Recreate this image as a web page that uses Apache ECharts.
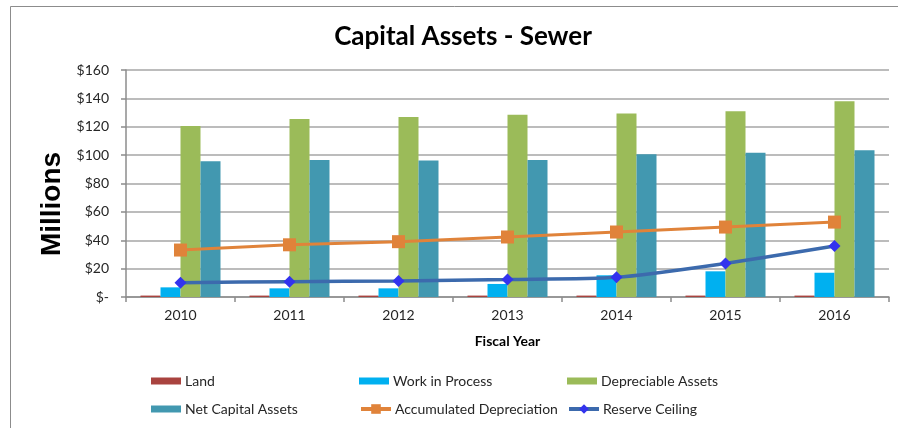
<!DOCTYPE html>
<html>
<head>
<meta charset="utf-8">
<title>Capital Assets - Sewer</title>
<script src="https://cdn.jsdelivr.net/npm/echarts@6/dist/echarts.min.js"></script>
<style>
  html, body { margin: 0; padding: 0; background: #ffffff; }
  #chart { width: 898px; height: 428px; }
</style>
</head>
<body>
<div id="chart"></div>
<script>
// Fiscal years on the category axis
const years = ['2010', '2011', '2012', '2013', '2014', '2015', '2016'];

// Values in millions of dollars
const land = [1.0, 1.0, 1.0, 1.0, 1.0, 1.0, 1.0];
const workInProcess = [6.8, 6.1, 6.1, 9.2, 15.3, 18.1, 17.1];
const depreciableAssets = [120.6, 125.4, 126.8, 128.4, 129.4, 131.0, 138.0];
const netCapitalAssets = [95.6, 96.5, 96.2, 96.5, 100.7, 101.6, 103.5];
const accumulatedDepreciation = [33.1, 36.8, 39.0, 42.3, 45.8, 49.3, 52.8];
const reserveCeiling = [10.1, 10.8, 11.3, 12.4, 13.9, 23.7, 35.9];

// Value-axis range and tick step
const yMin = 0;
const yMax = 160;
const yStep = 20;

const textFont = 'Lato, "Open Sans", sans-serif';
const textColor = '#262626';

const chart = echarts.init(document.getElementById('chart'), null, { renderer: 'canvas' });

const barSeries = (name, data, color) => ({
  name: name,
  type: 'bar',
  data: data,
  barWidth: 20,
  barGap: '0%',
  itemStyle: { color: color },
  z: 2
});

// One legend entry per slot: three columns, two rows
const legendItem = (name, left, top, isLine) => {
  const item = {
    orient: 'horizontal',
    left: left,
    top: top,
    padding: 0,
    itemWidth: 30,
    itemHeight: isLine ? 12 : 7,
    textStyle: { fontFamily: textFont, fontSize: 14, color: textColor, lineHeight: 16, padding: [0, 0, 0, -1] },
    selectedMode: false,
    data: [name]
  };
  if (isLine) {
    item.lineStyle = { width: 4 };
  } else {
    item.icon = 'rect';
  }
  return item;
};

chart.setOption({
  animation: false,
  backgroundColor: '#ffffff',
  title: {
    text: 'Capital Assets - Sewer',
    left: 458,
    top: 19,
    textAlign: 'center',
    textStyle: { fontFamily: textFont, fontSize: 26, fontWeight: 'bold', color: '#000000' }
  },
  graphic: [
    {
      type: 'rect',
      shape: { x: 10.5, y: 6.5, width: 900, height: 430 },
      style: { fill: null, stroke: '#8c8c8c', lineWidth: 1 },
      silent: true
    },
    {
      type: 'text',
      x: 52,
      y: 204,
      rotation: Math.PI / 2,
      style: {
        text: 'Millions',
        font: 'bold 28px "Liberation Sans", Arial, sans-serif',
        fill: '#000000',
        textAlign: 'center',
        textVerticalAlign: 'middle'
      }
    }
  ],
  legend: [
    legendItem('Land', 151, 373, false),
    legendItem('Work in Process', 359, 373, false),
    legendItem('Depreciable Assets', 567, 373, false),
    legendItem('Net Capital Assets', 151, 401, false),
    legendItem('Accumulated Depreciation', 359, 401, true),
    legendItem('Reserve Ceiling', 567, 401, true)
  ],
  grid: {
    left: 126,
    right: 9,
    top: 70,
    bottom: 131,
    containLabel: false
  },
  xAxis: {
    type: 'category',
    data: years,
    boundaryGap: true,
    name: 'Fiscal Year',
    nameLocation: 'middle',
    nameGap: 37,
    nameTextStyle: { fontFamily: textFont, fontSize: 14, fontWeight: 'bold', color: '#000000' },
    axisLine: { show: true, lineStyle: { color: '#8c8c8c', width: 1.5 } },
    axisTick: { show: true, length: 5, lineStyle: { color: '#8c8c8c', width: 1.5 } },
    axisLabel: { fontFamily: textFont, fontSize: 14, color: textColor, margin: 11 },
    splitLine: { show: false }
  },
  yAxis: {
    type: 'value',
    min: yMin,
    max: yMax,
    interval: yStep,
    axisLine: { show: true, lineStyle: { color: '#8c8c8c', width: 1.5 } },
    axisTick: { show: true, length: 5, lineStyle: { color: '#8c8c8c', width: 1.5 } },
    axisLabel: {
      fontFamily: textFont,
      fontSize: 14,
      color: textColor,
      margin: 17,
      formatter: v => (v === 0 ? '$-' : '$' + v)
    },
    splitLine: { show: true, lineStyle: { color: '#a6a6a6', width: 1.5 } }
  },
  series: [
    barSeries('Land', land, '#a9433f'),
    barSeries('Work in Process', workInProcess, '#00b0f0'),
    barSeries('Depreciable Assets', depreciableAssets, '#9bbb59'),
    barSeries('Net Capital Assets', netCapitalAssets, '#4298b0'),
    {
      name: 'Accumulated Depreciation',
      type: 'line',
      data: accumulatedDepreciation,
      symbol: 'rect',
      symbolSize: 13,
      showSymbol: true,
      lineStyle: { color: '#e0833a', width: 3 },
      itemStyle: { color: '#e0833a', borderWidth: 0 },
      z: 5
    },
    {
      name: 'Reserve Ceiling',
      type: 'line',
      data: reserveCeiling,
      smooth: 0.25,
      symbol: 'diamond',
      symbolSize: 12,
      showSymbol: true,
      lineStyle: { color: '#3c6aad', width: 3.5 },
      itemStyle: { color: '#3333ee', borderWidth: 0 },
      z: 6
    }
  ]
});
</script>
</body>
</html>
